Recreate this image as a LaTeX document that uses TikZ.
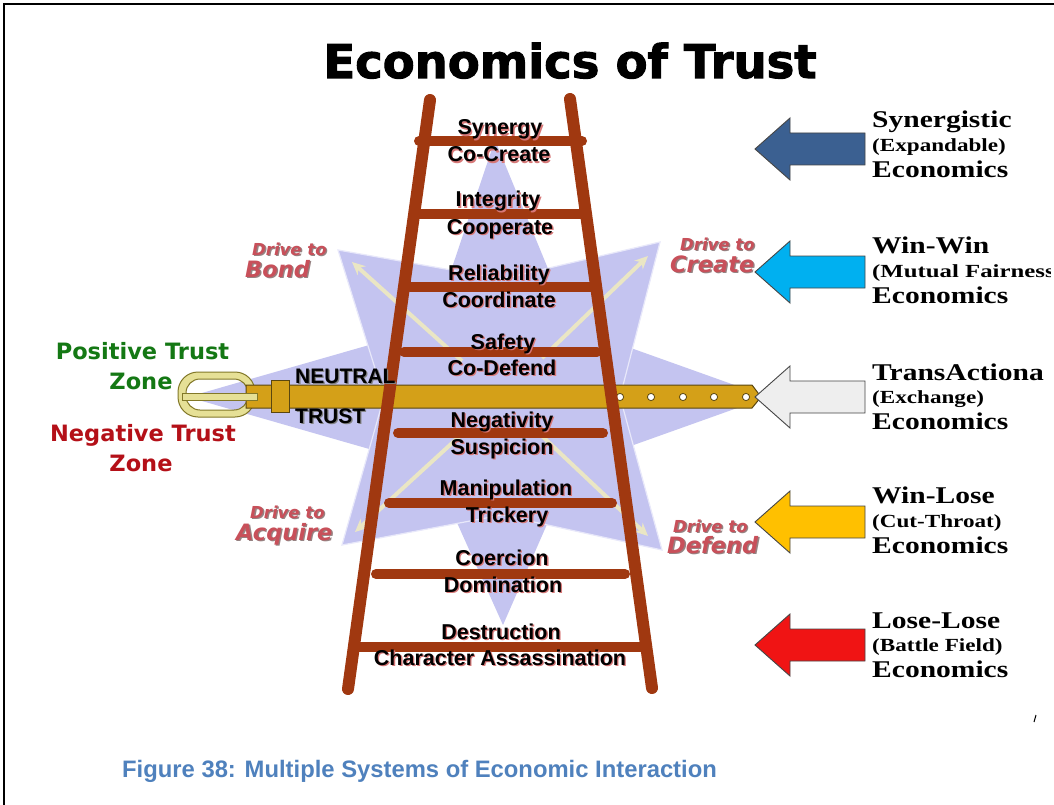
\documentclass[tikz,border=0pt]{standalone}
\usepackage{graphicx}
\usepackage{fontspec}
\setmainfont{Liberation Serif}
\newfontfamily\arialf{Liberation Sans}
\newfontfamily\dejaf{DejaVu Sans}
\newfontfamily\heavyf{DejaVu Sans}[BoldFeatures={FakeBold=2.2}]
\usetikzlibrary{arrows.meta}

\definecolor{ladderbrown}{RGB}{160,56,16}
\definecolor{beltgold}{RGB}{212,160,24}
\definecolor{beltedge}{RGB}{90,70,15}
\definecolor{bucklefill}{RGB}{230,224,150}
\definecolor{buckleedge}{RGB}{130,120,40}
\definecolor{lavender}{RGB}{196,196,240}
\definecolor{starline}{RGB}{232,232,250}
\definecolor{paleyellow}{RGB}{234,230,196}
\definecolor{driverose}{RGB}{200,80,90}
\definecolor{driveshade}{RGB}{150,130,130}
\definecolor{posgreen}{RGB}{20,120,20}
\definecolor{negred}{RGB}{180,16,24}
\definecolor{captionblue}{RGB}{79,129,189}
\definecolor{ladglow}{RGB}{215,120,120}
\definecolor{arrowedge}{RGB}{70,70,70}
\definecolor{steelarrow}{RGB}{59,96,145}
\definecolor{skyarrow}{RGB}{0,176,240}
\definecolor{palearrow}{RGB}{238,238,238}
\definecolor{goldarrow}{RGB}{255,192,0}
\definecolor{redarrow}{RGB}{240,20,20}

% text with a soft offset copy underneath: style, shadow colour, name, position, text
\newcommand{\shtext}[5]{%
  \node[#1,text=#2,xshift=1.3pt,yshift=-1.3pt] at #4 {#5};
  \node[#1] (#3) at #4 {#5};}

% left-pointing block arrow centred on height #1
\newcommand{\blockarrow}[2]{%
  \draw[fill=#2,draw=arrowedge,line width=0.9pt,line join=miter]
    (755,#1) -- ++(35,-31) -- ++(0,15) -- ++(75,0) -- ++(0,32)
    -- ++(-75,0) -- ++(0,15) -- cycle;}

\begin{document}
\begin{tikzpicture}[x=1pt,y=-1pt,
  rail/.style={draw=ladderbrown,line width=12pt,line cap=round},
  rung/.style={draw=ladderbrown,line width=10pt,line cap=round},
  ladtxt/.style={font={\arialf\bfseries\fontsize{21.5}{24}\selectfont},anchor=base,inner sep=0pt,text=black},
  neutxt/.style={font={\arialf\bfseries\fontsize{21}{24}\selectfont},anchor=base west,inner sep=0pt,text=black},
  zonepos/.style={font={\dejaf\bfseries\fontsize{22.5}{24}\selectfont},anchor=base,inner sep=0pt,text=posgreen},
  zoneneg/.style={font={\dejaf\bfseries\fontsize{22.5}{24}\selectfont},anchor=base,inner sep=0pt,text=negred},
  drvsmall/.style={font={\dejaf\bfseries\itshape\fontsize{16.5}{18}\selectfont},anchor=base west,inner sep=0pt,text=driverose},
  drvbig/.style={font={\dejaf\bfseries\itshape\fontsize{22.5}{24}\selectfont},anchor=base west,inner sep=0pt,text=driverose},
  rtbig/.style={font={\rmfamily\bfseries\fontsize{24}{26}\selectfont},anchor=base west,inner sep=0pt},
  rtsmall/.style={font={\rmfamily\bfseries\fontsize{18.5}{20}\selectfont},anchor=base west,inner sep=0pt},
  titletxt/.style={font={\heavyf\bfseries\fontsize{46.5}{50}\selectfont},anchor=base,inner sep=0pt,text=black},
  captxt/.style={font={\arialf\bfseries\fontsize{23.8}{26}\selectfont},anchor=base west,inner sep=0pt,text=captionblue},
  yarrow/.style={draw=paleyellow,line width=4pt,-{Stealth[length=13pt,width=12pt]}},
  hole/.style={fill=white,draw=beltedge,line width=0.8pt}
]
\useasboundingbox (0,0) rectangle (1054,805);
\fill[white] (0,0) rectangle (1054,805);

% page frame
\draw[line width=2.5pt] (4,805) -- (4,4) -- (1054,4);

% compass star: long cardinal points
\fill[lavender] (495,140) -- (572,327) -- (768,397) -- (572,467) -- (503,625)
  -- (432,467) -- (188,397) -- (432,327) -- cycle;
% shorter diagonal points
\filldraw[fill=lavender,draw=starline,line width=1.2pt,line join=miter]
  (338,250) -- (502,279) -- (660,242) -- (620,397) -- (662,550)
  -- (502,515) -- (342,545) -- (384,397) -- cycle;
% pale arrows towards the diagonal points
\draw[yarrow] (462,361) -- (352,262);
\draw[yarrow] (542,358) -- (648,256);
\draw[yarrow] (542,436) -- (648,536);
\draw[yarrow] (462,434) -- (355,532);

% belt: buckle ring, strap, prong, keeper, holes
\filldraw[fill=bucklefill,draw=buckleedge,line width=1pt,even odd rule]
  [rounded corners=20pt] (178,372) rectangle (255,417)
  [rounded corners=14pt] (186,379) rectangle (248,410);
\draw[fill=beltgold,draw=beltedge,line width=1pt]
  (246,385) -- (752,385) -- (761,397) -- (752,408) -- (246,408) -- cycle;
\draw[fill=bucklefill,draw=buckleedge,line width=1pt] (182,393) rectangle (257,400);
\draw[fill=beltgold,draw=beltedge,line width=1pt] (271,380) rectangle (289,412);
\foreach \hx in {620,651,683,714,746}
  \draw[hole] (\hx,397) circle (3.6pt);

% ladder
\draw[rail] (430,100) -- (348,689);
\draw[rail] (570,99) -- (652,688);
\draw[rung] (419,141) -- (582,141);
\draw[rung] (414,214) -- (587,214);
\draw[rung] (410,287) -- (591,287);
\draw[rung] (404,352) -- (597,352);
\draw[rung] (398,433) -- (603,433);
\draw[rung] (389,503) -- (612,503);
\draw[rung] (376,574) -- (625,574);
\draw[rung] (357,647) -- (645,647);

% rung labels
\shtext{ladtxt}{ladglow}{synergy}{(500,135)}{Synergy}
\shtext{ladtxt}{ladglow}{cocreate}{(499,162)}{Co-Create}
\shtext{ladtxt}{ladglow}{integrity}{(498,207)}{Integrity}
\shtext{ladtxt}{ladglow}{cooperate}{(500,234)}{Cooperate}
\shtext{ladtxt}{ladglow}{reliability}{(499,280)}{Reliability}
\shtext{ladtxt}{ladglow}{coordinate}{(499,307)}{Coordinate}
\shtext{ladtxt}{ladglow}{safety}{(503,349)}{Safety}
\shtext{ladtxt}{ladglow}{codefend}{(502,375)}{Co-Defend}
\shtext{ladtxt}{ladglow}{negativity}{(502,427)}{Negativity}
\shtext{ladtxt}{ladglow}{suspicion}{(502,454)}{Suspicion}
\shtext{ladtxt}{ladglow}{manipulation}{(506,495)}{Manipulation}
\shtext{ladtxt}{ladglow}{trickery}{(507,522)}{Trickery}
\shtext{ladtxt}{ladglow}{coercion}{(502,565)}{Coercion}
\shtext{ladtxt}{ladglow}{domination}{(503,592)}{Domination}
\shtext{ladtxt}{ladglow}{destruction}{(501,639)}{Destruction}
\shtext{ladtxt}{ladglow}{assassination}{(500,665)}{Character Assassination}

% neutral zone on the belt
\shtext{neutxt}{gray}{neutral}{(295,383)}{NEUTRAL}
\shtext{neutxt}{gray}{trust}{(295,423)}{TRUST}

% trust zones
\node[zonepos] (posline) at (142.5,359) {Positive Trust};
\node[zonepos] (poszone) at (141,389) {Zone};
\node[zoneneg] (negline) at (143,441) {Negative Trust};
\node[zoneneg] (negzone) at (141,471) {Zone};

% drives
\shtext{drvsmall}{driveshade}{bondA}{(252,255)}{Drive to}
\shtext{drvbig}{driveshade}{bondB}{(245,277)}{Bond}
\shtext{drvsmall}{driveshade}{createA}{(680,250)}{Drive to}
\shtext{drvbig}{driveshade}{createB}{(670,272)}{Create}
\shtext{drvsmall}{driveshade}{acquireA}{(250,518)}{Drive to}
\shtext{drvbig}{driveshade}{acquireB}{(236,540)}{Acquire}
\shtext{drvsmall}{driveshade}{defendA}{(673,532)}{Drive to}
\shtext{drvbig}{driveshade}{defendB}{(667,553)}{Defend}

% economics arrows
\blockarrow{149}{steelarrow}
\blockarrow{272}{skyarrow}
\blockarrow{397}{palearrow}
\blockarrow{522}{goldarrow}
\blockarrow{645}{redarrow}

% economics labels
\node[rtbig] (syn1) at (872,128) {\scalebox{1.23}[1]{Synergistic}};
\node[rtsmall] (syn2) at (872,152) {\scalebox{1.25}[1]{(Expandable)}};
\node[rtbig] (syn3) at (872,178) {\scalebox{1.23}[1]{Economics}};
\node[rtbig] (ww1) at (872,253) {\scalebox{1.23}[1]{Win-Win}};
\node[rtbig] (ww3) at (872,303) {\scalebox{1.23}[1]{Economics}};
\begin{scope}
\clip (860,0) rectangle (1050,805);
\node[rtsmall] (ww2) at (872,277) {\scalebox{1.34}[1]{(Mutual Fairness)}};
\end{scope}
\begin{scope}
\clip (860,0) rectangle (1043,805);
\node[rtbig] (tr1) at (872,380) {\scalebox{1.23}[1]{TransActional}};
\end{scope}
\node[rtsmall] (tr2) at (872,403) {\scalebox{1.25}[1]{(Exchange)}};
\node[rtbig] (tr3) at (872,429) {\scalebox{1.23}[1]{Economics}};
\node[rtbig] (wl1) at (872,503) {\scalebox{1.23}[1]{Win-Lose}};
\node[rtsmall] (wl2) at (872,527) {\scalebox{1.25}[1]{(Cut-Throat)}};
\node[rtbig] (wl3) at (872,553) {\scalebox{1.23}[1]{Economics}};
\node[rtbig] (ll1) at (872,628) {\scalebox{1.23}[1]{Lose-Lose}};
\node[rtsmall] (ll2) at (872,651) {\scalebox{1.25}[1]{(Battle Field)}};
\node[rtbig] (ll3) at (872,677) {\scalebox{1.23}[1]{Economics}};

% title
\node[titletxt] (title) at (570,78) {Economics of Trust};

% small stray tick
\draw[line width=1pt] (1034,722) -- (1036,715);

% caption
\node[captxt] (caption) at (122,777) {Figure 38: Multiple Systems of Economic Interaction};
\end{tikzpicture}
\end{document}
